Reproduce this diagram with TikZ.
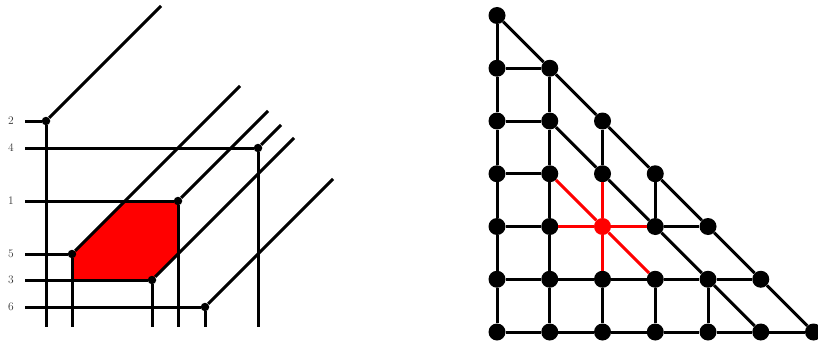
\documentclass[tikz,border=0pt]{standalone}
\begin{document}
\begin{tikzpicture}[x=1pt,y=-1pt,
  dot/.style={circle,fill=black,inner sep=0pt,minimum size=8.5pt},
  vtx/.style={circle,fill=black,inner sep=0pt,minimum size=17pt},
  lbl/.style={font=\fontsize{11.5}{13}\selectfont,inner sep=0pt,text=black!80},
  lline/.style={line width=3pt},
  edge/.style={line width=3pt},
  redge/.style={edge,red}]
\useasboundingbox (0,0) rectangle (818,345);

% ---------- left picture ----------
\fill[red] (72,254) -- (125,201) -- (178,201) -- (178,254) -- (152,280) -- (72,280) -- cycle;

\node[dot] (p2) at (46,121) {};
\node[dot] (p4) at (258,148) {};
\node[dot] (p1) at (178,201) {};
\node[dot] (p5) at (72,254) {};
\node[dot] (p3) at (152,280) {};
\node[dot] (p6) at (205,307) {};

\node[lbl] (l2) at (11,121) {2};
\node[lbl] (l4) at (11,148) {4};
\node[lbl] (l1) at (11,201) {1};
\node[lbl] (l5) at (11,254) {5};
\node[lbl] (l3) at (11,280) {3};
\node[lbl] (l6) at (11,307) {6};

\coordinate (h2) at (25,121);
\coordinate (h4) at (25,148);
\coordinate (h1) at (25,201);
\coordinate (h5) at (25,254);
\coordinate (h3) at (25,280);
\coordinate (h6) at (25,307);

\coordinate (b2) at (46,327);
\coordinate (b4) at (258,327);
\coordinate (b1) at (178,327);
\coordinate (b5) at (72,327);
\coordinate (b3) at (152,327);
\coordinate (b6) at (205,327);

\coordinate (d2) at (161,6);
\coordinate (d4) at (281,125);
\coordinate (d1) at (268,111);
\coordinate (d5) at (240,86);
\coordinate (d3) at (294,138);
\coordinate (d6) at (333,179);

\foreach \k in {2,4,1,5,3,6}{
  \draw[lline] (h\k) -- (p\k);
  \draw[lline] (p\k) -- (b\k);
  \draw[lline] (p\k) -- (d\k);
}

% ---------- right picture ----------
\foreach \r in {0,...,6}{
  \foreach \c in {0,...,\r}{
    \pgfmathtruncatemacro\isred{(\c==2)&&(\r==4)}
    \ifnum\isred=1 \def\vcol{red}\else\def\vcol{black}\fi
    \node[vtx,fill=\vcol] (n\c\r) at (497+52.75*\c,15.5+52.75*\r) {};
  }
}

% verticals
\draw[edge] (n00) -- (n01) -- (n02) -- (n03) -- (n04) -- (n05) -- (n06);
\draw[edge] (n11) -- (n12) -- (n13) -- (n14) -- (n15) -- (n16);
\draw[edge] (n22) -- (n23);
\draw[edge] (n25) -- (n26);
\draw[edge] (n33) -- (n34);
\draw[edge] (n35) -- (n36);
\draw[edge] (n45) -- (n46);
% horizontals
\draw[edge] (n01) -- (n11);
\draw[edge] (n02) -- (n12);
\draw[edge] (n03) -- (n13);
\draw[edge] (n04) -- (n14);
\draw[edge] (n34) -- (n44);
\draw[edge] (n05) -- (n15) -- (n25) -- (n35) -- (n45) -- (n55);
\draw[edge] (n06) -- (n16) -- (n26) -- (n36) -- (n46) -- (n56) -- (n66);
% diagonals
\draw[edge] (n00) -- (n11) -- (n22) -- (n33) -- (n44) -- (n55) -- (n66);
\draw[edge] (n12) -- (n23) -- (n34) -- (n45) -- (n56);
% red star
\draw[redge] (n23) -- (n24);
\draw[redge] (n24) -- (n25);
\draw[redge] (n14) -- (n24);
\draw[redge] (n24) -- (n34);
\draw[redge] (n13) -- (n24);
\draw[redge] (n24) -- (n35);
\end{tikzpicture}
\end{document}
